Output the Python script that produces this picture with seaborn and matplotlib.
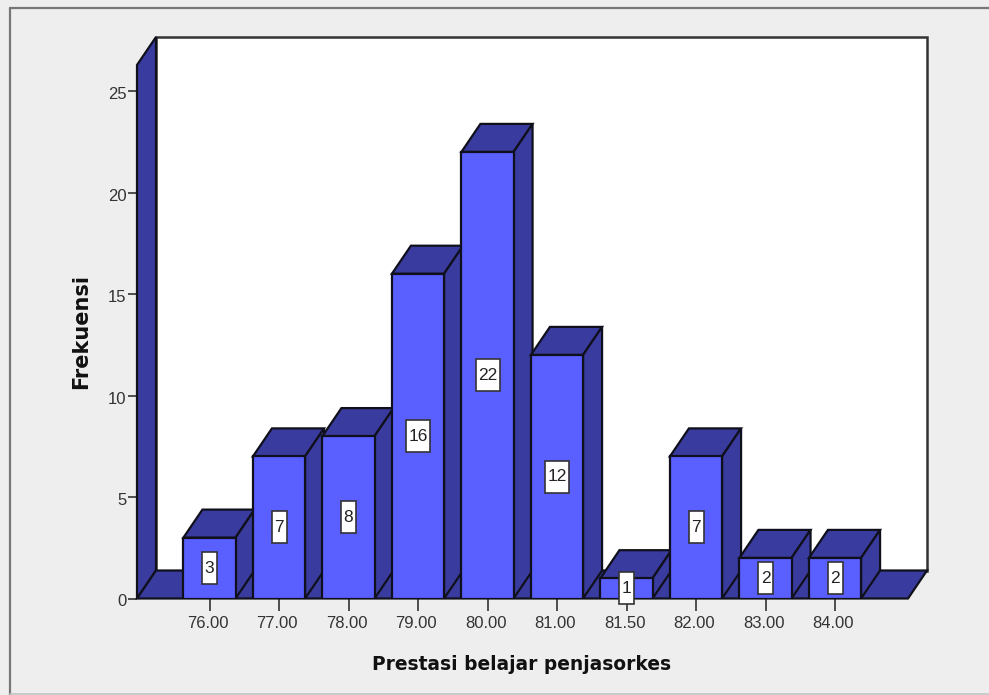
import numpy as np
import pandas as pd
import seaborn as sns
from matplotlib import pyplot as plt
from matplotlib.patches import Polygon, Rectangle
from matplotlib.transforms import ScaledTranslation

# Data
categories = ['76.00', '77.00', '78.00', '79.00', '80.00',
              '81.00', '81.50', '82.00', '83.00', '84.00']
frequencies = [3, 7, 8, 16, 22, 12, 1, 7, 2, 2]
y_ticks = [0, 5, 10, 15, 20, 25]

FIG_W, FIG_H = 989, 695
FACE = '#5a5fff'
SIDE = '#393c9e'
EDGE = '#10101c'
BG = '#eeeeee'

sns.set_theme(style='white', rc={'font.family': ['Liberation Sans', 'DejaVu Sans']})

fig = plt.figure(figsize=(FIG_W / 100, FIG_H / 100), dpi=100, facecolor=BG)

# pixel box of the plot (front left corner to back right corner)
left, right, top, bottom = 137, 927, 37, 598.5
ax = fig.add_axes([left / FIG_W, 1 - bottom / FIG_H,
                   (right - left) / FIG_W, (bottom - top) / FIG_H])
ax.patch.set_visible(False)

df = pd.DataFrame({'nilai': categories, 'frekuensi': frequencies})
sns.barplot(data=df, x='nilai', y='frekuensi', color=FACE, saturation=1,
            width=0.75, edgecolor=EDGE, linewidth=1.6, zorder=5, ax=ax)

# scales: 69.5 px per category, 20.3 px per unit
ax.set_xlim((left - 209.5) / 69.5, (right - 209.5) / 69.5)
ax.set_ylim(0, (bottom - top) / 20.3)
dx = 19 / 69.5
dy = 28 / 20.3
x0, x1 = ax.get_xlim()
y1 = ax.get_ylim()[1]


def poly(pts, z, fc=SIDE):
    ax.add_patch(Polygon(pts, closed=True, fc=fc, ec=EDGE, lw=1.6, zorder=z,
                         joinstyle='miter', clip_on=False))


# back wall, left wall, floor
ax.add_patch(Rectangle((x0 + dx, dy), x1 - x0 - dx, y1 - dy, fc='white',
                       ec='#333333', lw=1.8, zorder=1, clip_on=False))
poly([(x0, 0), (x0, y1 - dy), (x0 + dx, y1), (x0 + dx, dy)], 2)
poly([(x0, 0), (x1 - dx, 0), (x1, dy), (x0 + dx, dy)], 2)

# depth of the bars
for i, bar in enumerate(ax.patches[:len(categories)]):
    xl, w, h = bar.get_x(), bar.get_width(), bar.get_height()
    xr = xl + w
    poly([(xl, h), (xr, h), (xr + dx, h + dy), (xl + dx, h + dy)], 3 + i * 0.01)
    poly([(xr, 0), (xr, h), (xr + dx, h + dy), (xr + dx, dy)], 3 + i * 0.01)
    label = str(frequencies[i])
    bw = (15 if len(label) == 1 else 24) / 69.5
    bh = 32 / 20.3
    ax.add_patch(Rectangle((i - bw / 2, h / 2 - bh / 2), bw, bh, fc='white',
                           ec='#333333', lw=1.2, zorder=7, clip_on=False))
    ax.text(i, h / 2, label, ha='center', va='center', fontsize=12.5,
            color='#222222', zorder=8, clip_on=False)

for s in ax.spines.values():
    s.set_visible(False)

ax.set_yticks(y_ticks)
ax.set_xticks(np.arange(len(categories)))
ax.set_xticklabels(categories)
ax.tick_params(axis='y', left=True, length=6.5, width=1.1, color='#222222',
               labelsize=12, labelcolor='#333333', pad=1)
ax.tick_params(axis='x', bottom=True, length=8.5, width=1.1, color='#222222',
               labelsize=12, labelcolor='#333333', pad=4)
ax.set_xlabel('')
ax.set_ylabel('')

# tick labels sit a little off their ticks
for lab in ax.get_xticklabels():
    lab.set_transform(lab.get_transform() + ScaledTranslation(-2 / 100, 0, fig.dpi_scale_trans))
for lab in ax.get_yticklabels():
    lab.set_transform(lab.get_transform() + ScaledTranslation(0, -2 / 100, fig.dpi_scale_trans))

fig.text(522 / FIG_W, 1 - 665 / FIG_H, 'Prestasi belajar penjasorkes', ha='center',
         va='center', fontsize=13.4, fontweight='bold', color='#111111',
         family='DejaVu Sans')
fig.text(81 / FIG_W, 1 - 331 / FIG_H, 'Frekuensi', rotation=90, ha='center',
         va='center', fontsize=15, fontweight='bold', color='#111111',
         family='DejaVu Sans')

# outer frame
fig.add_artist(plt.Line2D([9.5 / FIG_W, 9.5 / FIG_W], [0, 1 - 7.5 / FIG_H],
                          color='#777777', lw=1.6))
fig.add_artist(plt.Line2D([9.5 / FIG_W, 1], [1 - 7.5 / FIG_H, 1 - 7.5 / FIG_H],
                          color='#777777', lw=1.6))
fig.add_artist(plt.Line2D([9.5 / FIG_W, 1], [0.6 / FIG_H, 0.6 / FIG_H],
                          color='#c4c4c4', lw=1.2))

fig.savefig('out.png', dpi=100, facecolor=BG)
